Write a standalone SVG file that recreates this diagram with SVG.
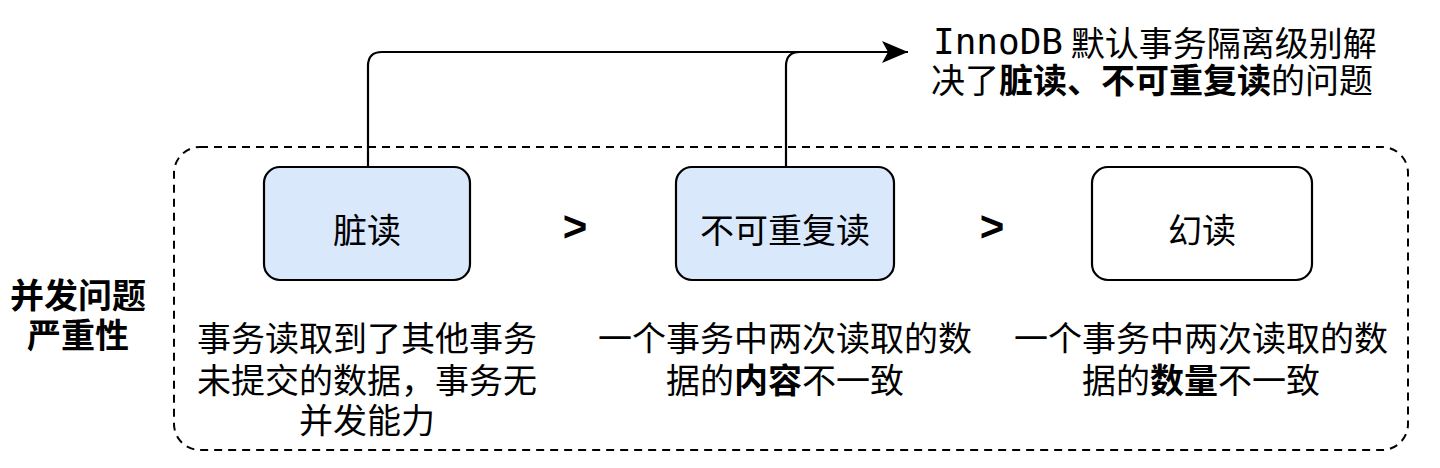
<svg xmlns="http://www.w3.org/2000/svg" width="1440" height="468" viewBox="0 0 1440 468">
<style>
text{font-family:"Noto Sans CJK SC","Noto Sans",sans-serif;fill:#000;}
.t{font-size:34px;text-anchor:middle;dominant-baseline:central;}
.b{font-weight:bold;}
.gt{font-family:"Liberation Sans",sans-serif;font-size:42px;font-weight:bold;text-anchor:middle;dominant-baseline:central;}
.box{stroke:#000;stroke-width:2.2;}
.blue{fill:#dae8fc;}
.white{fill:#fff;}
.conn{fill:none;stroke:#000;stroke-width:2.2;}
</style>
<defs>
<marker id="arr" markerWidth="28" markerHeight="22" refX="26" refY="11" orient="auto" markerUnits="userSpaceOnUse">
<path d="M0,0 L26,11 L0,22 L6,11 Z" fill="#000"/>
</marker>
</defs>
<rect width="1440" height="468" fill="#fff"/>
<g id="container">
<rect x="174" y="147" width="1234" height="303" rx="26" ry="26" fill="none" stroke="#000" stroke-width="2" stroke-dasharray="8 6"/>
</g>
<g id="connectors">
<path class="conn" d="M368,167 V66 Q368,52 382,52 H908" marker-end="url(#arr)"/>
<path class="conn" d="M786,167 V66 Q786,52 800,52 H810"/>
</g>
<g id="node-dirty">
<rect class="box blue" x="264" y="167" width="206" height="113" rx="16"/>
<text class="t" x="367" y="228">脏读</text>
</g>
<g id="node-nonrepeat">
<rect class="box blue" x="676" y="167" width="218" height="113" rx="16"/>
<text class="t" x="785" y="228">不可重复读</text>
</g>
<g id="node-phantom">
<rect class="box white" x="1092" y="167" width="220" height="113" rx="16"/>
<text class="t" x="1202" y="228">幻读</text>
</g>
<g id="gt1"><text class="gt" x="575" y="226">&gt;</text></g>
<g id="gt2"><text class="gt" x="992" y="226">&gt;</text></g>
<g id="label-left">
<text class="t b" x="78" y="293">并发问题</text>
<text class="t b" x="78" y="333">严重性</text>
</g>
<g id="desc-dirty">
<text class="t" x="367" y="336">事务读取到了其他事务</text>
<text class="t" x="367" y="378">未提交的数据，事务无</text>
<text class="t" x="367" y="418">并发能力</text>
</g>
<g id="desc-nonrepeat">
<text class="t" x="785" y="336">一个事务中两次读取的数</text>
<text class="t" x="785" y="378">据的<tspan class="b">内容</tspan>不一致</text>
</g>
<g id="desc-phantom">
<text class="t" x="1201" y="336">一个事务中两次读取的数</text>
<text class="t" x="1201" y="378">据的<tspan class="b">数量</tspan>不一致</text>
</g>
<g id="note">
<text x="933" y="41" style="font-size:34px;dominant-baseline:central"><tspan style="font-family:'DejaVu Sans Mono',monospace;font-size:36px">InnoDB</tspan> 默认事务隔离级别解</text>
<text x="931" y="78" style="font-size:34px;dominant-baseline:central">决了<tspan class="b">脏读、不可重复读</tspan>的问题</text>
</g>
</svg>
